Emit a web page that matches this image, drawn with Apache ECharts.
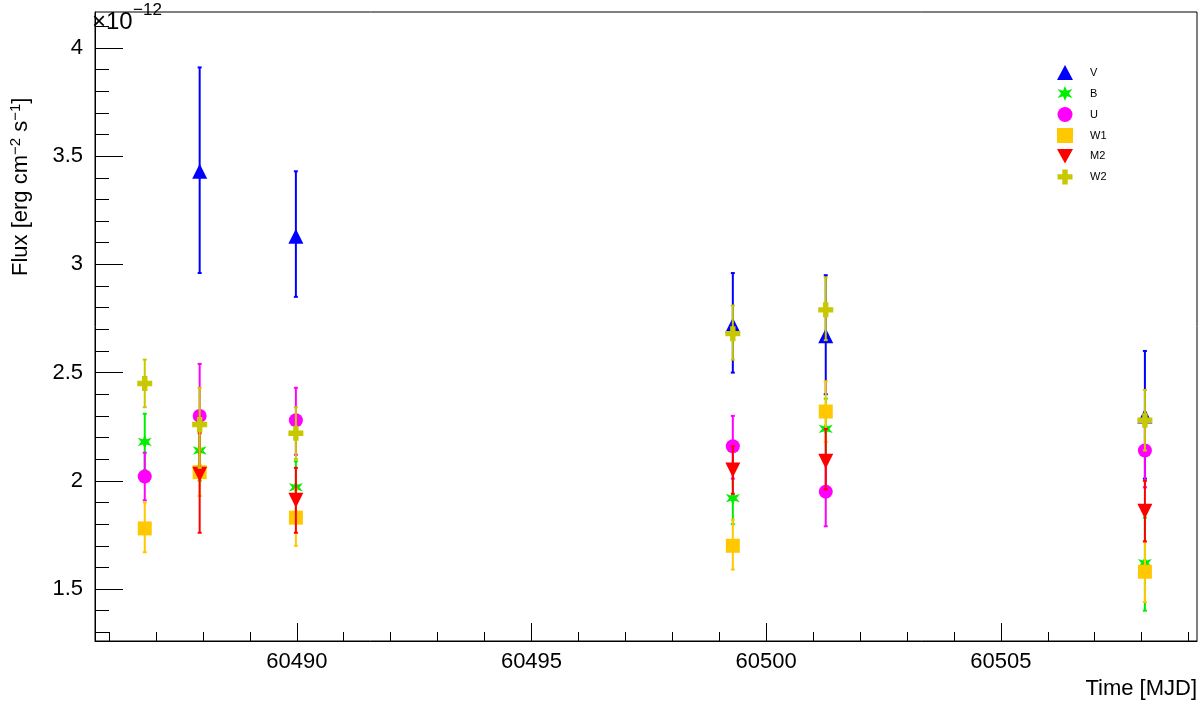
<!DOCTYPE html>
<html><head><meta charset="utf-8">
<script src="https://cdn.jsdelivr.net/npm/echarts@6/dist/echarts.min.js"></script>
<style>html,body{margin:0;padding:0;background:#fff}#c{width:1200px;height:714px}</style>
</head><body><div id="c"></div>
<script>
const times = [60486.76, 60487.93, 60489.98, 60499.29, 60501.27, 60508.07];
const names = ['V','B','U','W1','M2','W2'];
const V  = [null, 3.43, 3.13, 2.72, 2.67, 2.30];
const V_lo = [null, 2.96, 2.85, 2.50, 2.40, 2.01];
const V_hi = [null, 3.91, 3.43, 2.96, 2.95, 2.60];
const B  = [2.18, 2.14, 1.97, 1.92, 2.24, 1.62];
const B_lo = [2.05, 2.00, 1.85, 1.80, 2.10, 1.40];
const B_hi = [2.31, 2.28, 2.09, 2.04, 2.38, 1.83];
const U  = [2.02, 2.30, 2.28, 2.16, 1.95, 2.14];
const U_lo = [1.91, 2.07, 2.12, 2.01, 1.79, 1.97];
const U_hi = [2.13, 2.54, 2.43, 2.30, 2.10, 2.30];
const W1 = [1.78, 2.04, 1.83, 1.70, 2.32, 1.58];
const W1_lo = [1.67, 1.93, 1.70, 1.59, 2.18, 1.44];
const W1_hi = [1.90, 2.15, 1.96, 1.82, 2.46, 1.72];
const M2 = [null, 2.03, 1.91, 2.05, 2.09, 1.86];
const M2_lo = [null, 1.76, 1.76, 1.94, 1.96, 1.72];
const M2_hi = [null, 2.22, 2.06, 2.16, 2.24, 2.00];
const W2 = [2.45, 2.26, 2.22, 2.68, 2.79, 2.28];
const W2_lo = [2.34, 2.06, 2.10, 2.56, 2.65, 2.14];
const W2_hi = [2.56, 2.43, 2.34, 2.81, 2.94, 2.42];
const yMajor = [1.5, 2, 2.5, 3, 3.5, 4];
const yMinor = [1.3,1.4,1.6,1.7,1.8,1.9,2.1,2.2,2.3,2.4,2.6,2.7,2.8,2.9,3.1,3.2,3.3,3.4,3.6,3.7,3.8,3.9,4.1];
const xMajor = [60490, 60495, 60500, 60505];
const xMinor = [60486,60487,60488,60489,60491,60492,60493,60494,60496,60497,60498,60499,60501,60502,60503,60504,60506,60507,60508,60509];

const vals = [V,B,U,W1,M2,W2], los=[V_lo,B_lo,U_lo,W1_lo,M2_lo,W2_lo], his=[V_hi,B_hi,U_hi,W1_hi,M2_hi,W2_hi];
const colors = ['#0000ff','#00ee00','#ff00ff','#ffc800','#ff0000','#c8c800'];
const symbols = ['triangle',
 'path://M5,0 L6.3,3.2 L10,2 L7.6,5 L10,8 L6.3,6.8 L5,10 L3.7,6.8 L0,8 L2.4,5 L0,2 L3.7,3.2 Z',
 'circle', 'rect', 'path://M0,0 L10,0 L5,9 Z',
 'path://M3.2,0 H6.8 V3.2 H10 V6.8 H6.8 V10 H3.2 V6.8 H0 V3.2 H3.2 Z'];
const sizes = [15,14,14,14,15,15];
const xMin = 60485.7, xMax = 60509.18, yMin = 1.26, yMax = 4.166;
const font = 'Liberation Sans, Arial, sans-serif';

const series = [];
names.forEach((n,i)=>{
  const eb = [];
  times.forEach((t,k)=>{ if(vals[i][k]!=null) eb.push([t, los[i][k], his[i][k]]); });
  series.push({type:'custom', xAxisIndex:0, yAxisIndex:0, silent:true, z:2+i*2,
    renderItem:(p,api)=>{
      const a = api.coord([api.value(0), api.value(1)]), b = api.coord([api.value(0), api.value(2)]);
      const st = {stroke:colors[i], lineWidth:2};
      return {type:'group', children:[
        {type:'line', shape:{x1:a[0],y1:a[1],x2:b[0],y2:b[1]}, style:st},
        {type:'line', shape:{x1:a[0]-2,y1:a[1],x2:a[0]+2,y2:a[1]}, style:st},
        {type:'line', shape:{x1:b[0]-2,y1:b[1],x2:b[0]+2,y2:b[1]}, style:st}]};
    }, data: eb});
  const pts = [];
  times.forEach((t,k)=>{ if(vals[i][k]!=null) pts.push([t, vals[i][k]]); });
  series.push({type:'scatter', name:n, xAxisIndex:0, yAxisIndex:0, z:3+i*2, symbol:symbols[i], symbolSize:sizes[i],
    itemStyle:{color:colors[i], opacity:1}, data: pts});
});

const chart = echarts.init(document.getElementById('c'));
const axLine = {show:true, lineStyle:{color:'#000', width:1}};
chart.setOption({
  animation:false,
  grid:{left:95, right:3, top:12, bottom:73, show:true, borderColor:'#000', borderWidth:1},
  legend:{orient:'vertical', left:1052, top:60, itemWidth:16, itemHeight:15, itemGap:6,
    textStyle:{fontSize:11, fontFamily:font, color:'#000', padding:[0,0,0,12]}, data:names},
  xAxis:[
    {type:'value', min:xMin, max:xMax, axisLine:axLine, splitLine:{show:false},
     axisTick:{inside:true, length:18, lineStyle:{color:'#000'}, customValues:xMajor},
     axisLabel:{customValues:xMajor, formatter:v=>String(v), fontSize:22, fontFamily:font, color:'#000', margin:10}},
    {type:'value', min:xMin, max:xMax, position:'bottom', axisLine:{show:false}, splitLine:{show:false},
     axisTick:{inside:true, length:9, lineStyle:{color:'#000'}, customValues:xMinor},
     axisLabel:{show:false}}],
  yAxis:[
    {type:'value', min:yMin, max:yMax, axisLine:axLine, splitLine:{show:false},
     axisTick:{inside:true, length:28, lineStyle:{color:'#000'}, customValues:yMajor},
     axisLabel:{customValues:yMajor, formatter:v=>String(v), fontSize:22, fontFamily:font, color:'#000', margin:12}},
    {type:'value', min:yMin, max:yMax, position:'left', axisLine:{show:false}, splitLine:{show:false},
     axisTick:{inside:true, length:14, lineStyle:{color:'#000'}, customValues:yMinor},
     axisLabel:{show:false}}],
  graphic:[
    {type:'text', left:92, top:10, style:{text:'×10', font:'24px '+font, fill:'#000'}},
    {type:'text', left:133, top:2, style:{text:'−12', font:'17px '+font, fill:'#000'}},
    {type:'text', x:8, y:276, rotation:Math.PI/2,
     style:{text:'{a|Flux [erg cm}{s|−2}{a| s}{s|−1}{a|]}', rich:{a:{font:'22px '+font, fill:'#000'}, s:{font:'15px '+font, fill:'#000', verticalAlign:'top', padding:[0,0,10,0]}}, fill:'#000'}},
    {type:'text', right:3, top:678, style:{text:'Time [MJD]', font:'22px '+font, fill:'#000'}}
  ],
  series
});
</script></body></html>
